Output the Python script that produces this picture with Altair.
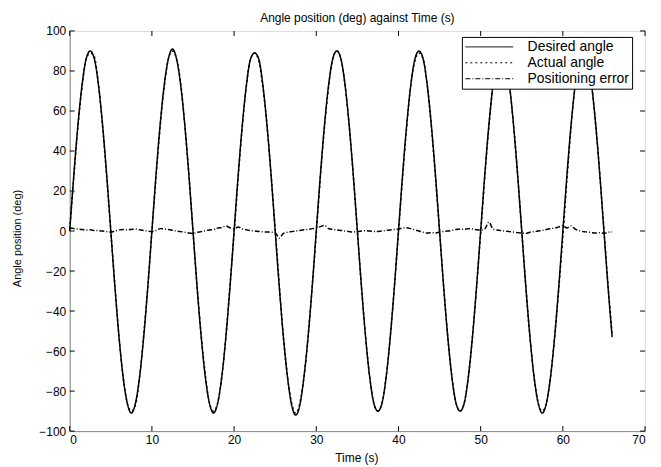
import altair as alt
import pandas as pd

STEP = 0.5  # sampling interval of the recorded series, s

desired_angle = [
    0, 28, 53, 73, 86, 90, 86, 73, 53, 28, 0, -28, -53, -73, -86, -91, -86, -73, -53, -28,
    0, 28, 53, 73, 86, 91, 86, 73, 53, 28, 0, -28, -53, -73, -86, -91, -86, -73, -53, -28,
    0, 28, 53, 73, 86, 89, 86, 73, 53, 28, 0, -28, -53, -73, -87, -92, -87, -73, -53, -28,
    0, 28, 53, 73, 86, 90, 86, 73, 53, 28, 0, -28, -53, -73, -86, -90, -86, -73, -53, -28,
    0, 28, 53, 73, 86, 90, 86, 73, 53, 28, 0, -28, -53, -73, -86, -90, -86, -73, -53, -28,
    0, 28, 53, 73, 86, 90, 86, 73, 53, 28, 0, -28, -53, -73, -86, -91, -86, -73, -53, -28,
    0, 28, 53, 73, 86, 90, 86, 73, 53, 28, 0, -28, -53,
]

actual_angle = [
    1, 27, 52, 72, 86, 89, 87, 73, 52, 27, 0, -27, -53, -73, -86, -90, -87, -73, -52, -28,
    0, 27, 52, 72, 86, 90, 86, 74, 53, 28, 0, -28, -52, -72, -86, -90, -86, -73, -53, -27,
    -1, 27, 52, 73, 86, 89, 85, 72, 53, 28, 1, -27, -53, -73, -86, -91, -86, -73, -53, -28,
    -1, 27, 52, 72, 86, 90, 86, 73, 53, 28, 0, -28, -53, -73, -86, -90, -86, -73, -53, -28,
    -1, 27, 52, 73, 85, 89, 86, 73, 52, 27, 0, -28, -53, -73, -86, -90, -86, -73, -53, -28,
    -1, 27, 52, 73, 86, 89, 86, 73, 53, 28, 0, -28, -53, -73, -86, -90, -86, -73, -53, -29,
    -3, 26, 52, 73, 86, 89, 86, 73, 53, 28, 1, -27, -52,
]

positioning_error = [
    1.5, 1.2, 1.0, 0.8, 0.5, 0.6, 0.3, 0.2, 0.0, -0.3, -0.5, 0.0, 0.5, 0.8, 0.6, 0.8, 1.0, 0.6, 0.3, 0.0,
    -0.2, 0.3, 1.2, 1.0, 0.8, 0.4, 0.0, -0.3, -0.6, -1.0, -1.2, -0.6, -0.3, 0.2, 0.5, 0.8, 1.5, 1.8, 2.5, 1.6,
    1.2, 2.0, 1.0, 0.6, 0.2, 0.0, -0.2, -0.4, -0.5, -0.6, -0.8, -3.5, -1.2, -0.6, -0.3, 0.0, 0.3, 0.6, 0.8, 1.2,
    1.5, 2.2, 2.8, 1.2, 0.8, 0.5, 0.3, 0.0, -0.3, -0.5, -0.2, 0.0, 0.2, 0.0, -0.3, -0.2, 0.0, 0.3, 0.5, 0.8,
    1.0, 1.5, 1.6, 1.2, 0.6, 0.0, -0.6, -1.0, -0.8, -1.0, -0.5, -0.2, 0.0, 0.3, 0.8, 1.0, 0.8, 1.2, 1.0, 0.6,
    0.5, 1.0, 4.5, 1.0, 0.5, 0.2, 0.0, -0.3, -0.5, -0.8, -1.0, -1.2, -0.6, -0.3, 0.0, 0.3, 0.8, 1.2, 1.5, 2.0,
    2.8, 1.5, 2.5, 1.0, 0.2, -0.3, -0.5, -0.8, -1.0, -0.8, -1.2, -0.6, -0.5,
]

series_names = ["Desired angle", "Actual angle", "Positioning error"]
x_ticks = [0, 10, 20, 30, 40, 50, 60, 70]
y_ticks = [-100, -80, -60, -40, -20, 0, 20, 40, 60, 80, 100]

rows = []
for name, vals in zip(series_names, [desired_angle, actual_angle, positioning_error]):
    for i, v in enumerate(vals):
        rows.append({"t": i * STEP, "value": v, "series": name})
df = pd.DataFrame(rows)

FONT = "Liberation Sans"
xscale = alt.Scale(domain=[0, 70], nice=False, zero=False)
yscale = alt.Scale(domain=[-100, 100], nice=False, zero=False)

lines = alt.Chart(df).mark_line(color="black", strokeWidth=1.5, interpolate="monotone").encode(
    x=alt.X("t:Q", scale=xscale,
            axis=alt.Axis(values=x_ticks, title="Time (s)", ticks=False, grid=False,
                          labelPadding=3, labelFontSize=12, titleFontSize=12,
                          titleFontWeight="normal", titleX=288, titleY=27,
                          titleBaseline="middle")),
    y=alt.Y("value:Q", scale=yscale,
            axis=alt.Axis(values=y_ticks, title="Angle position (deg)", ticks=False, grid=False,
                          labelPadding=4, labelFontSize=12, titleFontSize=11,
                          titleFontWeight="normal", titleX=-52, titleY=208, titleAngle=-90,
                          titleAlign="center", titleBaseline="middle")),
    strokeDash=alt.StrokeDash(
        "series:N",
        scale=alt.Scale(domain=series_names, range=[[1, 0], [2, 3], [5, 2, 1, 2]]),
        sort=series_names,
        legend=alt.Legend(title=None, orient="none", legendX=394, legendY=6,
                          symbolType="stroke", symbolSize=2304, symbolStrokeWidth=1,
                          symbolStrokeColor="black", clipHeight=14, rowPadding=2,
                          labelFontSize=14, labelFont=FONT, labelColor="black",
                          labelOffset=14, padding=3, strokeColor="black", fillColor="white",
                          cornerRadius=0),
    ),
    order=alt.Order("t:Q"),
)

xtick_df = pd.DataFrame({"x": x_ticks})
ytick_df = pd.DataFrame({"y": y_ticks})

bottom_ticks = alt.Chart(xtick_df).mark_rule(color="black", strokeWidth=1).encode(
    x=alt.X("x:Q", scale=xscale), y=alt.datum(-100), y2=alt.datum(-97.5))
top_ticks = alt.Chart(xtick_df).mark_rule(color="black", strokeWidth=1).encode(
    x=alt.X("x:Q", scale=xscale), y=alt.datum(100), y2=alt.datum(97.5))
left_ticks = alt.Chart(ytick_df).mark_rule(color="black", strokeWidth=1).encode(
    y=alt.Y("y:Q", scale=yscale), x=alt.datum(0), x2=alt.datum(0.6))
right_ticks = alt.Chart(ytick_df).mark_rule(color="black", strokeWidth=1).encode(
    y=alt.Y("y:Q", scale=yscale), x=alt.datum(70), x2=alt.datum(69.4))

chart = alt.layer(lines, bottom_ticks, top_ticks, left_ticks, right_ticks).properties(
    width=578,
    height=402,
    title=alt.TitleParams("Angle position (deg) against Time (s)", fontSize=12, font=FONT,
                          fontWeight="normal", color="black", anchor="middle", offset=0),
    autosize=alt.AutoSizeParams(type="none"),
    padding={"left": 62, "top": 22, "right": 8, "bottom": 34},
).configure_view(stroke="black", strokeWidth=1).configure_axis(
    labelFont=FONT, labelColor="black", titleFont=FONT,
    titleColor="black", domainColor="black", domainWidth=1,
).configure(background="white")

chart.save("out.html", embed_options={"renderer": "svg", "actions": False})
